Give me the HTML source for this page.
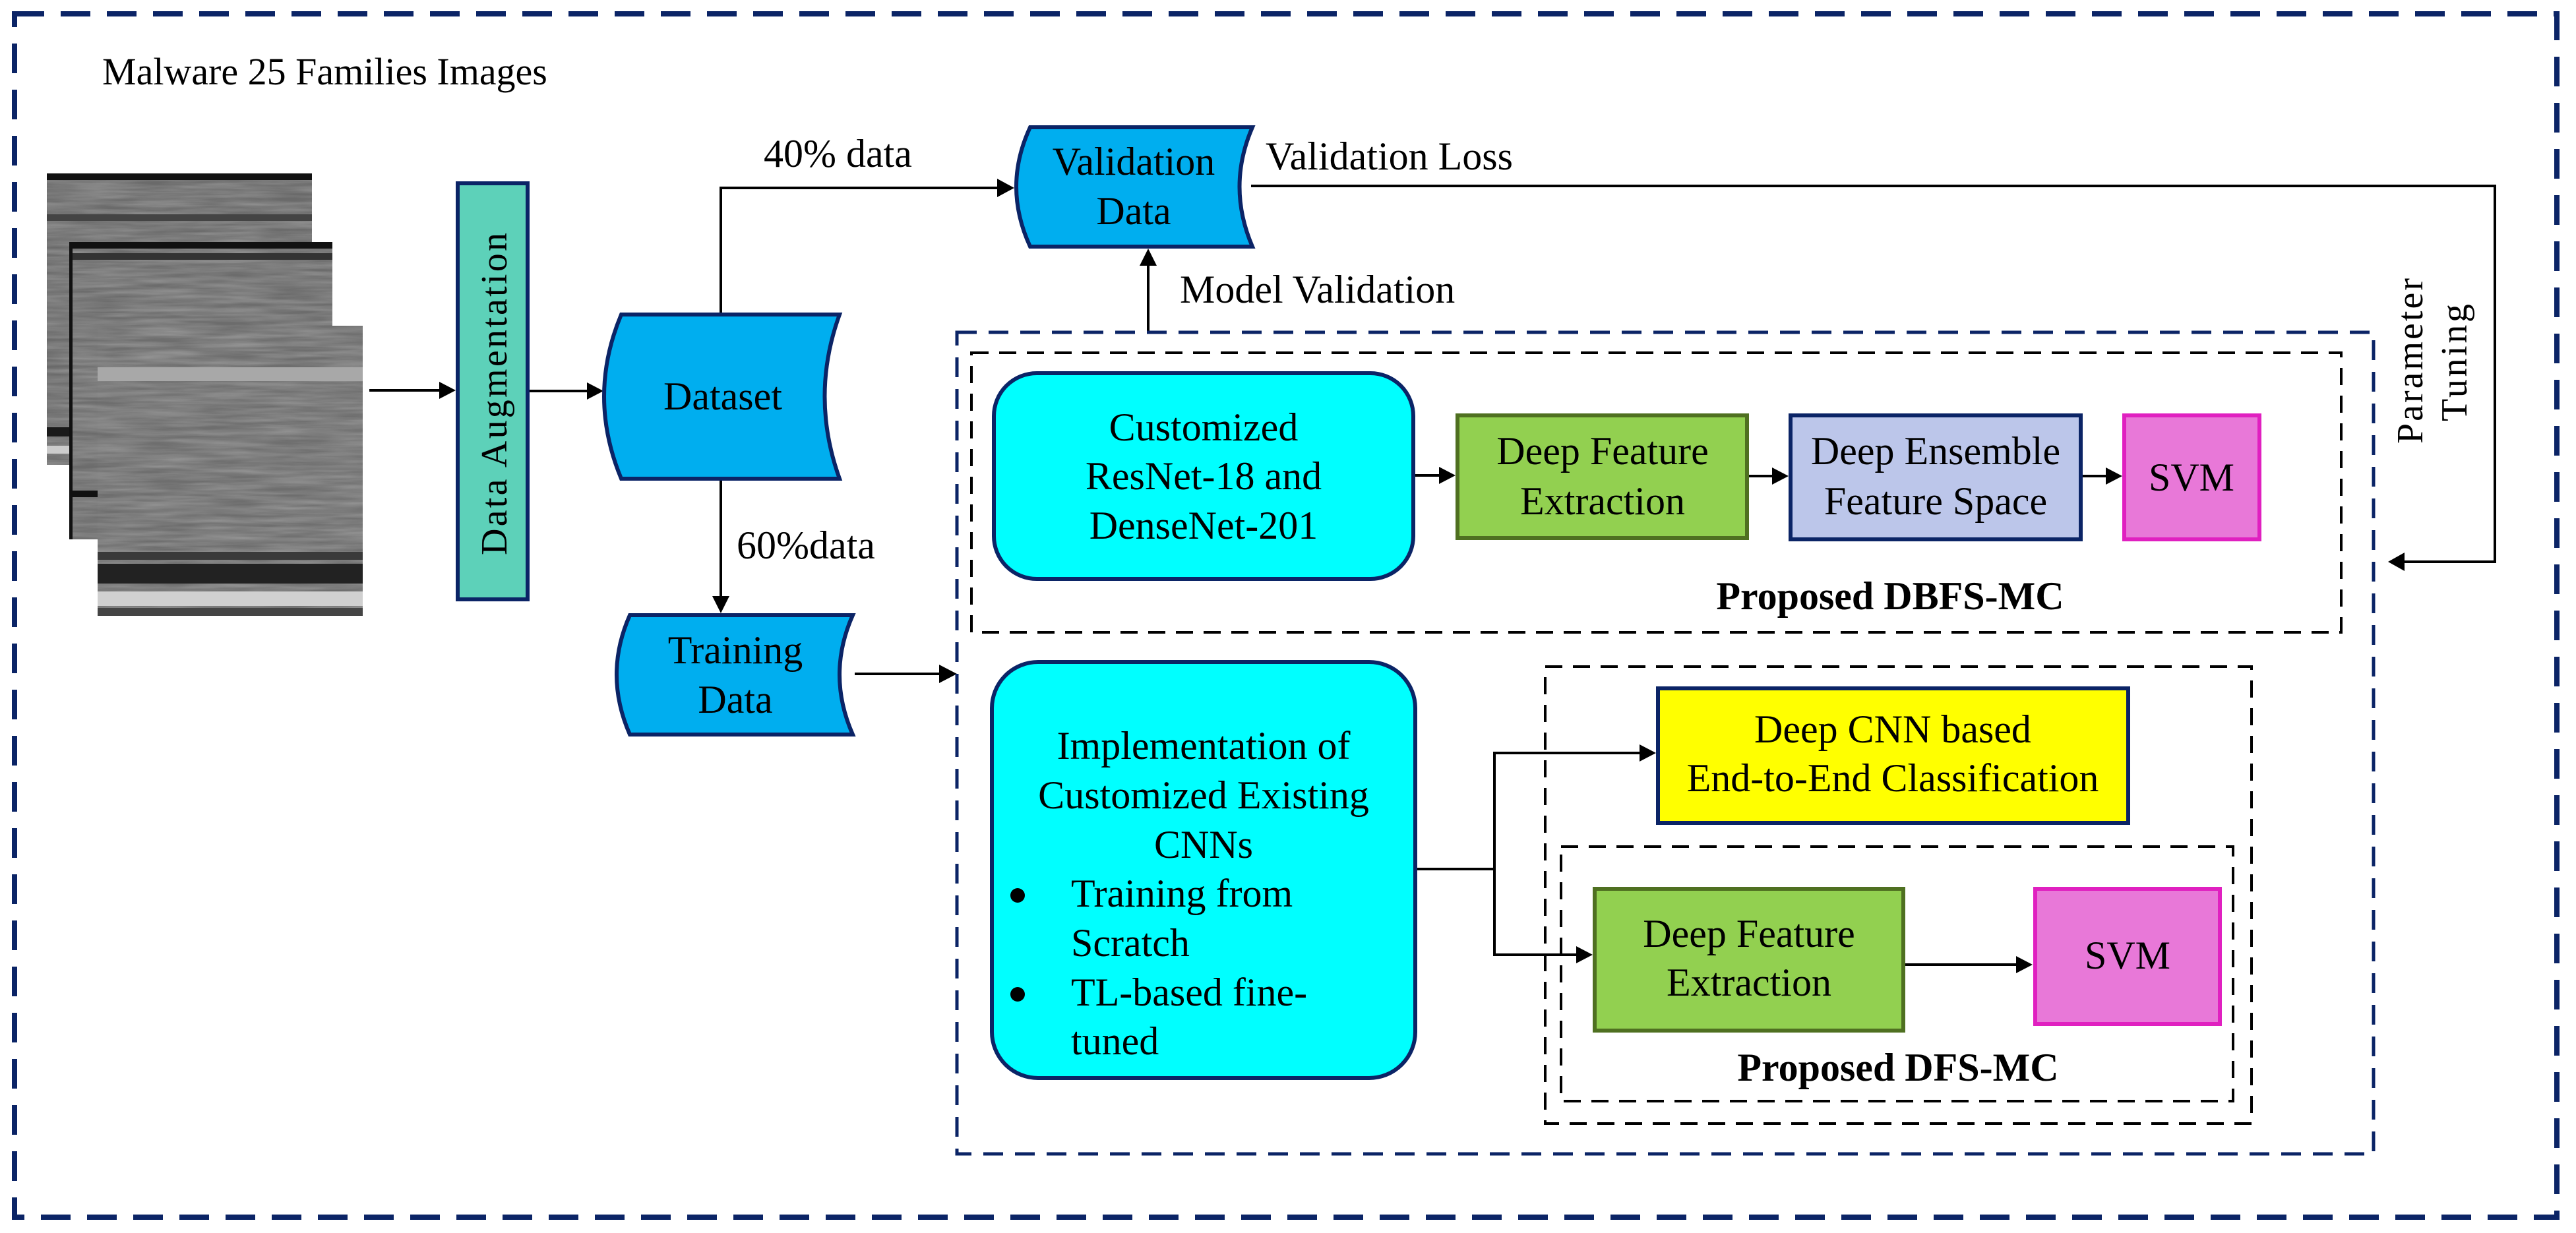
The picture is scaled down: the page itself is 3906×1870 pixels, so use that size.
<!DOCTYPE html>
<html><head><meta charset="utf-8"><style>html,body{margin:0;padding:0;background:#fff}svg{display:block}svg text{font-family:"Liberation Serif","Times New Roman",serif}</style></head>
<body>
<svg width="3906" height="1870" viewBox="0 0 3906 1870" xmlns="http://www.w3.org/2000/svg" style="font-family:'Liberation Serif',serif" font-size="60">
<defs>
<filter id="noise" x="0" y="0" width="100%" height="100%">
<feTurbulence type="fractalNoise" baseFrequency="0.01 0.15" numOctaves="3" seed="4"/>
<feColorMatrix type="matrix" values="0 0 0 0 0.5  0 0 0 0 0.5  0 0 0 0 0.5  1.4 0 0 0 -0.3"/>
<feComposite in2="SourceGraphic" operator="in"/>
</filter>
</defs>
<rect width="3906" height="1870" fill="#fff"/>
<rect x="22" y="21" width="3855" height="1825" fill="none" stroke="#0b2466" stroke-width="8" stroke-dasharray="45 25"/>
<text x="155" y="128" font-size="58">Malware 25 Families Images</text>

<g>
<rect x="71" y="263" width="402" height="442" fill="#6a6a6a"/>
<rect x="71" y="263" width="402" height="442" fill="#fff" filter="url(#noise)" opacity="0.5"/>
<rect x="71" y="263" width="402" height="10" fill="#111"/>
<rect x="71" y="325" width="402" height="10" fill="#444"/>
<rect x="71" y="648" width="402" height="14" fill="#1a1a1a"/>
<rect x="71" y="676" width="402" height="12" fill="#ccc"/>
<rect x="105" y="367" width="399" height="451" fill="#6c6c6c"/>
<rect x="105" y="367" width="399" height="451" fill="#fff" filter="url(#noise)" opacity="0.5"/>
<rect x="105" y="367" width="399" height="10" fill="#111"/>
<rect x="105" y="384" width="399" height="10" fill="#333"/>
<rect x="105" y="367" width="5" height="451" fill="#111"/>
<rect x="105" y="744" width="399" height="10" fill="#111"/>
<rect x="148" y="494" width="402" height="440" fill="#6e6e6e"/>
<rect x="148" y="494" width="402" height="440" fill="#fff" filter="url(#noise)" opacity="0.5"/>
<rect x="148" y="557" width="402" height="21" fill="#a8a8a8"/>
<rect x="148" y="837" width="402" height="12" fill="#3a3a3a"/>
<rect x="148" y="855" width="402" height="30" fill="#222"/>
<rect x="148" y="897" width="402" height="22" fill="#d0d0d0"/>
<rect x="148" y="922" width="402" height="12" fill="#444"/>
</g>

<g stroke="#000" stroke-width="4" fill="none">
<line x1="560" y1="592" x2="670" y2="592"/>
<line x1="803" y1="593" x2="895" y2="593"/>
<polyline points="1093,474 1093,285 1515,285"/>
<line x1="1093" y1="729" x2="1093" y2="910"/>
<line x1="1741" y1="504" x2="1741" y2="398"/>
<polyline points="1897,282 3783,282 3783,852 3642,852"/>
<line x1="1296" y1="1022" x2="1430" y2="1022"/>
<line x1="2143" y1="721" x2="2187" y2="721"/>
<line x1="2652" y1="722" x2="2692" y2="722"/>
<line x1="3158" y1="722" x2="3198" y2="722"/>
<polyline points="2146,1318 2266,1318"/>
<polyline points="2491,1142 2266,1142 2266,1448 2395,1448"/>
<line x1="2889" y1="1463" x2="3061" y2="1463"/>
</g>
<g fill="#000">
<polygon points="691,592 666,579 666,605"/>
<polygon points="915,593 890,580 890,606"/>
<polygon points="1538,285 1512,271 1512,299"/>
<polygon points="1093,930 1080,904 1106,904"/>
<polygon points="1741,377 1728,403 1754,403"/>
<polygon points="3621,852 3646,838 3646,866"/>
<polygon points="1451,1022 1424,1008 1424,1036"/>
<polygon points="2207,721 2182,708 2182,734"/>
<polygon points="2712,722 2687,709 2687,735"/>
<polygon points="3218,722 3193,709 3193,735"/>
<polygon points="2511,1142 2486,1129 2486,1155"/>
<polygon points="2415,1448 2390,1435 2390,1461"/>
<polygon points="3082,1463 3057,1450 3057,1476"/>
</g>

<rect x="694" y="278" width="106" height="631" fill="#5dd1b9" stroke="#0b2466" stroke-width="6"/>
<text transform="translate(768,842) rotate(-90)" font-size="56" textLength="489" lengthAdjust="spacing">Data Augmentation</text>

<g fill="#00aeef" stroke="#0b2466" stroke-width="6">
<path d="M942,477 L1273,477 Q1228,601 1273,726 L942,726 Q890,601 942,477 Z"/>
<path d="M1562,193 L1899,193 Q1860,283 1899,374 L1562,374 Q1520,283 1562,193 Z"/>
<path d="M955,933 L1293,933 Q1253,1023 1293,1114 L955,1114 Q915,1023 955,933 Z"/>
</g>
<g text-anchor="middle">
<text x="1096" y="621">Dataset</text>
<text x="1719" y="265">Validation</text>
<text x="1719" y="340">Data</text>
<text x="1115" y="1006">Training</text>
<text x="1115" y="1081">Data</text>
</g>
<text x="1158" y="253">40% data</text>
<text x="1117" y="847">60%data</text>
<text x="1919" y="257">Validation Loss</text>
<text x="1789" y="459">Model Validation</text>
<text transform="translate(3673,673) rotate(-90)" font-size="56" textLength="251" lengthAdjust="spacing">Parameter</text>
<text transform="translate(3740,639) rotate(-90)" font-size="56" textLength="178" lengthAdjust="spacing">Tuning</text>

<rect x="1451" y="504" width="2148" height="1246" fill="none" stroke="#0b2466" stroke-width="5" stroke-dasharray="30 18"/>
<g fill="none" stroke="#000" stroke-width="4" stroke-dasharray="26 16">
<rect x="1473" y="535" width="2077" height="424"/>
<rect x="2343" y="1011" width="1071" height="693"/>
<rect x="2367" y="1284" width="1019" height="386"/>
</g>

<rect x="1507" y="566" width="636" height="312" rx="65" fill="#00ffff" stroke="#0b2466" stroke-width="6"/>
<g text-anchor="middle">
<text x="1825" y="668">Customized</text>
<text x="1825" y="742">ResNet-18 and</text>
<text x="1825" y="817">DenseNet-201</text>
</g>
<rect x="2210" y="630" width="439" height="186" fill="#92d050" stroke="#4f7021" stroke-width="6"/>
<rect x="2715" y="630" width="440" height="188" fill="#bcc6ea" stroke="#0b2466" stroke-width="6"/>
<rect x="3221" y="630" width="205" height="188" fill="#e878d8" stroke="#e020c0" stroke-width="6"/>
<g text-anchor="middle">
<text x="2430" y="704">Deep Feature</text>
<text x="2430" y="780">Extraction</text>
<text x="2935" y="704">Deep Ensemble</text>
<text x="2935" y="780">Feature Space</text>
<text x="3323" y="744">SVM</text>
<text x="2866" y="924" font-weight="bold">Proposed DBFS-MC</text>
</g>

<rect x="1504" y="1004" width="642" height="631" rx="70" fill="#00ffff" stroke="#0b2466" stroke-width="6"/>
<g text-anchor="middle">
<text x="1825" y="1151">Implementation of</text>
<text x="1825" y="1226">Customized Existing</text>
<text x="1825" y="1301">CNNs</text>
</g>
<circle cx="1543" cy="1358" r="11" fill="#000"/>
<circle cx="1543" cy="1508" r="11" fill="#000"/>
<text x="1624" y="1375">Training from</text>
<text x="1624" y="1450">Scratch</text>
<text x="1624" y="1525">TL-based fine-</text>
<text x="1624" y="1599">tuned</text>

<rect x="2514" y="1044" width="713" height="204" fill="#ffff00" stroke="#0b2466" stroke-width="6"/>
<rect x="2418" y="1348" width="468" height="215" fill="#92d050" stroke="#4f7021" stroke-width="6"/>
<rect x="3086" y="1348" width="280" height="205" fill="#e878d8" stroke="#e020c0" stroke-width="6"/>
<g text-anchor="middle">
<text x="2870" y="1126">Deep CNN based</text>
<text x="2870" y="1200">End-to-End Classification</text>
<text x="2652" y="1436">Deep Feature</text>
<text x="2652" y="1510">Extraction</text>
<text x="3226" y="1469">SVM</text>
<text x="2878" y="1639" font-weight="bold">Proposed DFS-MC</text>
</g>
</svg>
</body></html>
